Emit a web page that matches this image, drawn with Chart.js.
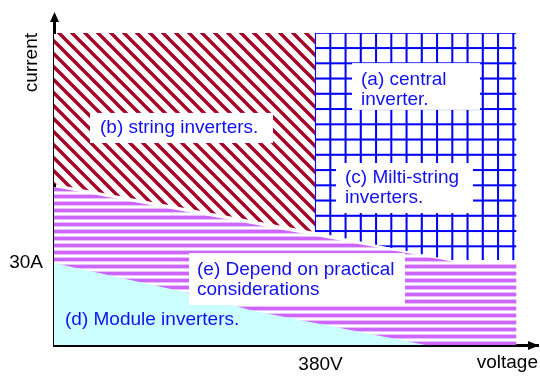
<!DOCTYPE html>
<html>
<head>
<meta charset="utf-8">
<title>Inverter topologies</title>
<script src="https://cdn.jsdelivr.net/npm/chart.js@4.4.0/dist/chart.umd.min.js"></script>
<style>
body { margin: 0; background: #fff; }
#chartBox { width: 540px; height: 377px; }
</style>
</head>
<body>
<div id="chartBox"><canvas id="invChart" width="540" height="377"></canvas></div>
<script>
// axis ranges and ticks
var xMax = 690;
var yMax = 114;
var xTicks = [380];
var xTickLabels = ['380V'];
var yTicks = [30];
var yTickLabels = ['30A'];

// region outlines, [voltage, current]
var stringRegion = [[0, 114], [372, 114], [372, 41.3], [0, 58.8]];
var centralRegion = [[372, 114], [659, 114], [659, 31.1], [564, 31.1], [372, 41.3]];
var practicalRegion = [[0, 57.7], [579, 30], [659, 30], [659, 0], [0, 0]];
var moduleRegion = [[0, 30], [192, 19], [279, 12.8], [530, 0], [0, 0]];

// region label texts
var labelTexts = [
  ['(a) central', 'inverter.'],
  ['(b) string inverters.'],
  ['(c) Milti-string', 'inverters.'],
  ['(e) Depend on practical', 'considerations'],
  ['(d) Module inverters.']
];

// where the labels go (data units), box = [x1, y1, x2, y2]
var labelLayout = [
  {x: 437.7, y: 96.8, box: [424.8, 103.0, 607.3, 85.9]},
  {x: 65.6, y: 79.3, box: [51.3, 84.8, 312.2, 73.8]},
  {x: 414.9, y: 61.0, box: [402.0, 66.5, 597.3, 48.2]},
  {x: 203.9, y: 27.4, box: [192.5, 33.6, 500.4, 14.6]},
  {x: 15.7, y: 9.1, box: null}
];

var fontFamily = 'Arial, "Liberation Sans", sans-serif';
var textBlue = '#1010f0';

Chart.defaults.font.family = fontFamily;
Chart.defaults.font.size = 19;
Chart.defaults.color = '#000';

var ctx = document.getElementById('invChart').getContext('2d');

function makeTile(w, h, draw) {
  var c = document.createElement('canvas');
  c.width = w;
  c.height = h;
  var g = c.getContext('2d');
  g.fillStyle = '#fff';
  g.fillRect(0, 0, w, h);
  draw(g);
  return c;
}

// red diagonal hatch
var hatch = ctx.createPattern(makeTile(13, 13, function(g) {
  g.strokeStyle = '#a50026';
  g.lineWidth = 3.4;
  [-13, 0, 13].forEach(function(o) {
    g.beginPath();
    g.moveTo(o - 2, -2);
    g.lineTo(o + 15, 15);
    g.stroke();
  });
}), 'repeat');

// blue grid
var grid = ctx.createPattern(makeTile(15, 15, function(g) {
  g.fillStyle = '#0000ff';
  g.fillRect(0, 0, 2, 15);
  g.fillRect(0, 0, 15, 2);
}), 'repeat');
grid.setTransform(new DOMMatrix().translate(314, 47).scale(15.25 / 15));

// pink horizontal stripes
var stripes = ctx.createPattern(makeTile(8, 7, function(g) {
  g.fillStyle = '#cc66ff';
  g.fillRect(0, 0, 8, 3);
  g.fillStyle = '#e8c0ff';
  g.fillRect(0, 3, 8, 1);
  g.fillRect(0, 6, 8, 1);
}), 'repeat');
stripes.setTransform(new DOMMatrix().translate(0, 195));

function toPoints(arr) {
  return arr.map(function(p) { return {x: p[0], y: p[1]}; });
}

function region(label, pts, fill) {
  return {
    label: label,
    data: toPoints(pts),
    fill: 'shape',
    backgroundColor: fill,
    borderColor: 'transparent',
    borderWidth: 0,
    pointRadius: 0,
    tension: 0
  };
}

// white boxes + blue text over the regions
var labelPlugin = {
  id: 'regionLabels',
  afterDatasetsDraw: function(chart) {
    var c = chart.ctx, xs = chart.scales.x, ys = chart.scales.y;
    c.save();
    c.font = '19px ' + fontFamily;
    c.textBaseline = 'middle';
    c.textAlign = 'left';
    labelLayout.forEach(function(l, i) {
      if (l.box) {
        var x1 = xs.getPixelForValue(l.box[0]), x2 = xs.getPixelForValue(l.box[2]);
        var y1 = ys.getPixelForValue(l.box[1]), y2 = ys.getPixelForValue(l.box[3]);
        c.fillStyle = '#fff';
        c.fillRect(x1, y1, x2 - x1, y2 - y1);
      }
      c.fillStyle = textBlue;
      var tx = xs.getPixelForValue(l.x), ty = ys.getPixelForValue(l.y);
      labelTexts[i].forEach(function(t, j) {
        c.fillText(t, tx, ty + j * 20);
      });
    });
    c.restore();
  }
};

// arrow heads on the axes
var arrowPlugin = {
  id: 'axisArrows',
  afterDraw: function(chart) {
    var c = chart.ctx, ca = chart.chartArea;
    var ax = ca.left + 0.5, ay = ca.bottom + 0.5;
    c.save();
    c.strokeStyle = '#000';
    c.fillStyle = '#000';
    c.lineWidth = 3;
    c.beginPath();
    c.moveTo(ax, ca.top + 1);
    c.lineTo(ax, 20);
    c.stroke();
    c.beginPath();
    c.moveTo(ax, 12);
    c.lineTo(ax - 4.5, 22);
    c.lineTo(ax + 4.5, 22);
    c.closePath();
    c.fill();
    c.beginPath();
    c.moveTo(ca.right + 1, ay);
    c.lineTo(ca.right - 10, ay - 4.5);
    c.lineTo(ca.right - 10, ay + 4.5);
    c.closePath();
    c.fill();
    c.restore();
  }
};

var myChart = new Chart(ctx, {
  type: 'line',
  data: {
    datasets: [
      region('(d) Module inverters', moduleRegion, '#ccffff'),
      region('(e) Depend on practical considerations', practicalRegion, stripes),
      region('(a)/(c) central and multi-string inverters', centralRegion, grid),
      region('(b) string inverters', stringRegion, hatch)
    ]
  },
  options: {
    responsive: false,
    animation: false,
    events: [],
    layout: { padding: { top: 33, right: 2, bottom: 0, left: 0 } },
    plugins: {
      legend: { display: false },
      tooltip: { enabled: false }
    },
    scales: {
      x: {
        type: 'linear',
        min: 0,
        max: xMax,
        z: 1,
        grid: { display: false, drawTicks: false },
        border: { display: true, color: '#000', width: 3 },
        afterBuildTicks: function(s) {
          s.ticks = xTicks.map(function(v) { return {value: v}; });
        },
        ticks: {
          autoSkip: false,
          maxRotation: 0,
          padding: 8,
          callback: function(v) { return xTickLabels[xTicks.indexOf(v)]; }
        },
        title: { display: true, text: 'voltage', align: 'end', padding: { top: 0, bottom: 3 } },
        afterFit: function(s) {
          s.height = 32;
          s.paddingLeft = 0;
          s.paddingRight = 0;
        }
      },
      y: {
        type: 'linear',
        min: 0,
        max: yMax,
        z: 1,
        grid: { display: false, drawTicks: false },
        border: { display: true, color: '#000', width: 3 },
        afterBuildTicks: function(s) {
          s.ticks = yTicks.map(function(v) { return {value: v}; });
        },
        ticks: {
          autoSkip: false,
          padding: 11,
          callback: function(v) { return yTickLabels[yTicks.indexOf(v)]; }
        },
        title: { display: true, text: 'current', align: 'end', padding: { top: 20, bottom: 0 } },
        afterFit: function(s) {
          s.width = 54;
          s.paddingTop = 0;
          s.paddingBottom = 0;
        }
      }
    }
  },
  plugins: [labelPlugin, arrowPlugin]
});
</script>
</body>
</html>
